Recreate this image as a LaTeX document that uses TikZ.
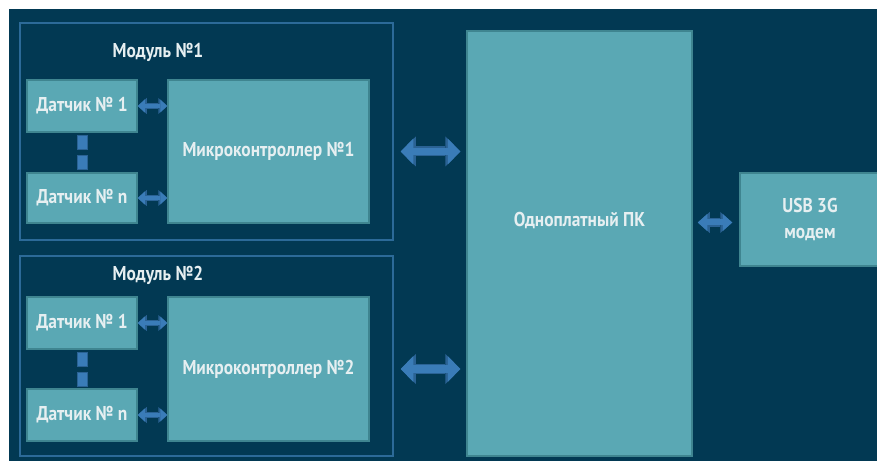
\documentclass[tikz,border=0pt]{standalone}
\usepackage{fontspec}
\setmainfont{PT Sans}[FakeStretch=0.87]
\usetikzlibrary{arrows.meta}

\definecolor{fon}{HTML}{023953}
\definecolor{blokfill}{HTML}{5AA8B4}
\definecolor{blokkant}{HTML}{3F8590}
\definecolor{ramkakant}{HTML}{2C6A98}
\definecolor{strfill}{HTML}{3A7CB8}
\definecolor{strkant}{HTML}{2A6294}
\definecolor{tekst}{HTML}{E6EFF1}

\tikzset{
    blok/.style={draw=blokkant, fill=blokfill, line width=1.5pt, inner sep=0pt,
        text=tekst, font=\bfseries\fontsize{20}{25}\selectfont, align=center},
    ramka/.style={draw=ramkakant, line width=1.5pt, inner sep=0pt},
    zagolovok/.style={text=tekst, font=\bfseries\fontsize{20}{25}\selectfont},
    tochka/.style={draw=strkant, fill=strfill, line width=1pt,
        minimum width=10pt, minimum height=14pt, inner sep=0pt},
    mala/.style={line width=4.5pt, draw=strfill,
        arrows={Triangle[width=13pt,length=7pt,line width=0pt]-Triangle[width=13pt,length=7pt,line width=0pt]},
        preaction={draw=strkant, line width=6.5pt,
            arrows={Triangle[width=16pt,length=9pt,line width=0pt]-Triangle[width=16pt,length=9pt,line width=0pt]}}},
    srednya/.style={line width=6pt, draw=strfill,
        arrows={Triangle[width=17pt,length=9.5pt,line width=0pt]-Triangle[width=17pt,length=9.5pt,line width=0pt]},
        preaction={draw=strkant, line width=8.5pt,
            arrows={Triangle[width=21pt,length=12pt,line width=0pt]-Triangle[width=21pt,length=12pt,line width=0pt]}}},
    velika/.style={line width=7.5pt, draw=strfill,
        arrows={Triangle[width=26pt,length=12.5pt,line width=0pt]-Triangle[width=26pt,length=12.5pt,line width=0pt]},
        preaction={draw=strkant, line width=10pt,
            arrows={Triangle[width=30pt,length=15pt,line width=0pt]-Triangle[width=30pt,length=15pt,line width=0pt]}}}
}

\begin{document}
\begin{tikzpicture}[x=1pt, y=-1pt]
    \useasboundingbox (0,0) rectangle (877,462);
    % Fon
    \fill[white] (0,0) rectangle (877,462);
    \fill[fon] (9,9) rectangle (877,461);

    % Modul 1
    \node[ramka, minimum width=373pt, minimum height=217pt] (mod1) at (206.5,131.5) {};
    \node[zagolovok] (mod1lbl) at (158,52) {Модуль №1};
    \node[blok, minimum width=110pt, minimum height=52pt] (dat11) at (82,106) {Датчик № 1};
    \node[blok, minimum width=110pt, minimum height=50pt] (dat1n) at (82,198) {Датчик № n};
    \node[blok, minimum width=201pt, minimum height=143pt] (mk1) at (268.5,151.5) {Микроконтроллер №1};
    \node[tochka] (t11) at (82,142.5) {};
    \node[tochka] (t12) at (82,162.5) {};

    % Modul 2
    \node[ramka, minimum width=373pt, minimum height=200pt] (mod2) at (206.5,356) {};
    \node[zagolovok] (mod2lbl) at (158,275) {Модуль №2};
    \node[blok, minimum width=110pt, minimum height=52pt] (dat21) at (82,323) {Датчик № 1};
    \node[blok, minimum width=110pt, minimum height=52pt] (dat2n) at (82,415) {Датчик № n};
    \node[blok, minimum width=201pt, minimum height=144pt] (mk2) at (268.5,369) {Микроконтроллер №2};
    \node[tochka] (t21) at (82,359.5) {};
    \node[tochka] (t22) at (82,379.5) {};

    % PK i modem
    \node[blok, minimum width=225pt, minimum height=425pt] (pk) at (579.5,243.5) {};
    \node[zagolovok] (pklbl) at (579.5,220) {Одноплатный ПК};
    \node[blok, minimum width=140pt, minimum height=93pt] (modem) at (810,219.5) {USB 3G\\модем};

    % Svyazi
    \draw[mala] (dat11.east) -- (dat11.east -| mk1.west);
    \draw[mala] (dat1n.east) -- (dat1n.east -| mk1.west);
    \draw[mala] (dat21.east) -- (dat21.east -| mk2.west);
    \draw[mala] (dat2n.east) -- (dat2n.east -| mk2.west);
    \draw[velika, shorten <=7pt, shorten >=6pt] (mk1.east -| mod1.east) -- (mk1.east -| pk.west);
    \draw[velika, shorten <=7pt, shorten >=6pt] (mk2.east -| mod2.east) -- (mk2.east -| pk.west);
    \draw[srednya, shorten <=5pt, shorten >=7pt] ([yshift=-3pt]modem.west -| pk.east) -- ([yshift=-3pt]modem.west);
\end{tikzpicture}
\end{document}
